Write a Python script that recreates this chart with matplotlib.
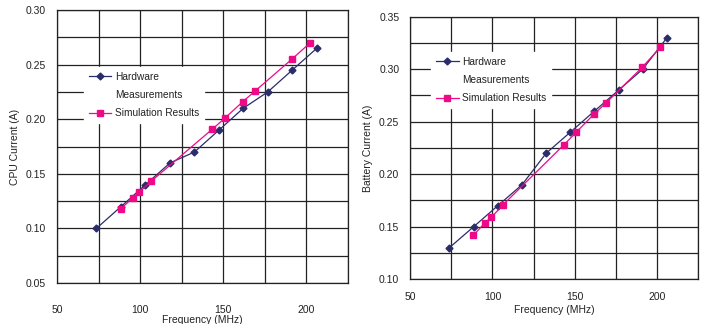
import matplotlib.pyplot as plt
from matplotlib.lines import Line2D
import numpy as np

plt.rcParams['font.family'] = ['Liberation Sans', 'DejaVu Sans']

# left chart: CPU current
cpu_hw_freq = [73.7, 88.5, 103.2, 118.0, 132.7, 147.4, 162.0, 176.8, 191.5, 206.3]
cpu_hw_val = [0.100, 0.120, 0.140, 0.160, 0.170, 0.190, 0.210, 0.225, 0.245, 0.265]
cpu_sim_freq = [88.4, 95.6, 99.3, 106.5, 143.5, 151.0, 161.7, 169.3, 191.3, 202.3]
cpu_sim_val = [0.118, 0.128, 0.133, 0.143, 0.191, 0.201, 0.216, 0.226, 0.255, 0.270]

# right chart: battery current
bat_hw_freq = [73.7, 88.5, 103.2, 118.0, 132.7, 147.4, 162.0, 176.8, 191.5, 206.3]
bat_hw_val = [0.130, 0.150, 0.170, 0.190, 0.220, 0.240, 0.260, 0.280, 0.300, 0.330]
bat_sim_freq = [88.4, 95.6, 99.3, 106.5, 143.5, 151.0, 161.7, 169.3, 191.3, 202.3]
bat_sim_val = [0.142, 0.154, 0.159, 0.171, 0.228, 0.240, 0.257, 0.268, 0.302, 0.321]

hw_color = '#2b2d6b'
sim_color = '#ee0a86'
ink = '#222222'

fig = plt.figure(figsize=(7.1, 3.24), dpi=100)
ax1 = fig.add_axes([0.0803, 0.1265, 0.4097, 0.8425])
ax2 = fig.add_axes([0.578, 0.138, 0.4047, 0.8106])


def style(ax, ylim, ylabel, xpad, lpad):
    ax.set_xlim(50, 225)
    ax.set_ylim(*ylim)
    ax.set_xticks(np.arange(50, 226, 25), minor=True)
    ax.set_yticks(np.arange(ylim[0], ylim[1] + 0.001, 0.025), minor=True)
    ax.set_xticks([50, 100, 150, 200])
    ax.set_yticks(np.arange(ylim[0], ylim[1] + 0.001, 0.05))
    ax.yaxis.set_major_formatter(plt.FormatStrFormatter('%.2f'))
    ax.grid(True, which='both', color=ink, lw=0.9)
    ax.tick_params(which='both', length=0, labelsize=7.5, colors=ink)
    ax.tick_params(axis='x', pad=xpad)
    ax.tick_params(axis='y', pad=8)
    for s in ax.spines.values():
        s.set_color(ink)
        s.set_linewidth(0.9)
    ax.set_axisbelow(True)
    ax.set_ylabel(ylabel, fontsize=7.5, color=ink, labelpad=4)
    ax.set_xlabel('Frequency (MHz)', fontsize=7.5, color=ink, labelpad=lpad)


style(ax1, (0.05, 0.30), 'CPU Current (A)', 16, 0)
style(ax2, (0.10, 0.35), 'Battery Current (A)', 9, 2)

for ax, hf, hv, sf, sv in [(ax1, cpu_hw_freq, cpu_hw_val, cpu_sim_freq, cpu_sim_val),
                           (ax2, bat_hw_freq, bat_hw_val, bat_sim_freq, bat_sim_val)]:
    hw, = ax.plot(hf, hv, color=hw_color, lw=0.9, marker='D', ms=3.5, zorder=3)
    sim, = ax.plot(sf, sv, color=sim_color, lw=0.9, marker='s', ms=5, zorder=4)
    blank = Line2D([], [], color='none')
    anchor = (0.075, 0.81) if ax is ax1 else (0.055, 0.885)
    leg = ax.legend([hw, blank, sim], ['Hardware', 'Measurements', 'Simulation Results'],
                    loc='upper left', bbox_to_anchor=anchor, fontsize=7.3,
                    frameon=True, fancybox=False, edgecolor='white', framealpha=1,
                    handlelength=2.2, handletextpad=0.35, labelspacing=0.8,
                    borderpad=0.5)
    for t in leg.get_texts():
        t.set_color(ink)

fig.savefig('out.png', dpi=100)
